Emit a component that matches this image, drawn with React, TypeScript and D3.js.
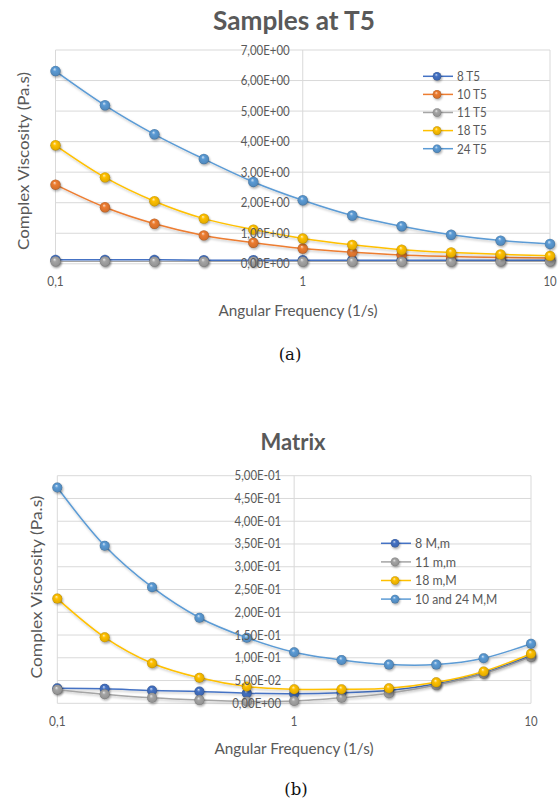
import React from 'react';
import * as d3 from 'd3';

// ---------- data ----------
const freqs = [0.1, 0.1585, 0.2512, 0.3981, 0.631, 1, 1.585, 2.512, 3.981, 6.31, 10];

const topNames = ['8 T5', '10 T5', '11 T5', '18 T5', '24 T5'];
const top8 = [0.13, 0.13, 0.13, 0.12, 0.12, 0.12, 0.12, 0.12, 0.12, 0.12, 0.12];
const top10 = [2.59, 1.85, 1.31, 0.93, 0.69, 0.5, 0.38, 0.29, 0.24, 0.21, 0.19];
const top11 = [0.08, 0.08, 0.07, 0.07, 0.07, 0.07, 0.07, 0.07, 0.07, 0.08, 0.08];
const top18 = [3.88, 2.83, 2.05, 1.48, 1.12, 0.83, 0.62, 0.46, 0.37, 0.31, 0.26];
const top24 = [6.31, 5.19, 4.24, 3.43, 2.68, 2.08, 1.58, 1.23, 0.95, 0.76, 0.65];

const botNames = ['8 M,m', '11 m,m', '18 m,M', '10 and 24 M,M'];
const bot8 = [0.033, 0.032, 0.028, 0.026, 0.022, 0.021, 0.023, 0.028, 0.043, 0.068, 0.105];
const bot11 = [0.03, 0.02, 0.012, 0.007, 0.004, 0.005, 0.012, 0.022, 0.04, 0.065, 0.102];
const bot18 = [0.23, 0.145, 0.088, 0.056, 0.037, 0.031, 0.031, 0.033, 0.046, 0.07, 0.109];
const bot24 = [0.474, 0.346, 0.255, 0.188, 0.144, 0.112, 0.095, 0.085, 0.085, 0.099, 0.131];

const xTicks = [0.1, 1, 10];
const xTickLabels = ['0,1', '1', '10'];
const topYTicks = [0, 1, 2, 3, 4, 5, 6, 7];
const topYTickLabels = ['0,00E+00', '1,00E+00', '2,00E+00', '3,00E+00', '4,00E+00', '5,00E+00', '6,00E+00', '7,00E+00'];
const botYTicks = [0, 0.05, 0.1, 0.15, 0.2, 0.25, 0.3, 0.35, 0.4, 0.45, 0.5];
const botYTickLabels = ['0,00E+00', '5,00E-02', '1,00E-01', '1,50E-01', '2,00E-01', '2,50E-01', '3,00E-01', '3,50E-01', '4,00E-01', '4,50E-01', '5,00E-01'];

// ---------- style ----------
const FONT = "Lato, 'Open Sans', sans-serif";
const TEXT = '#595959';
const GRID = '#D9D9D9';
const COLORS: Record<string, string> = {
  blue: '#4472C4',
  orange: '#ED7D31',
  gray: '#A5A5A5',
  gold: '#FFC000',
  light: '#5B9BD5',
};

// approximate Calibri advance widths (em) so the text spans like the original
const CW: Record<string, number> = {
  ' ': 0.226, '(': 0.303, ')': 0.303, '+': 0.498, ',': 0.25, '-': 0.306, '.': 0.252, '/': 0.386,
  A: 0.579, C: 0.533, E: 0.488, F: 0.459, M: 0.855, P: 0.517, T: 0.487, V: 0.579,
  a: 0.479, c: 0.423, d: 0.525, e: 0.498, g: 0.471, i: 0.229, l: 0.229, m: 0.799, n: 0.525,
  o: 0.527, p: 0.525, q: 0.525, r: 0.349, s: 0.391, t: 0.335, u: 0.525, x: 0.433, y: 0.453,
};
const textW = (s: string, size: number) =>
  s.split('').reduce((acc, ch) => acc + (CW[ch] ?? (/[0-9]/.test(ch) ? 0.507 : 0.5)), 0) * size;

type Series = { name: string; color: string; values: number[] };

const topSeries: Series[] = [
  { name: topNames[0], color: 'blue', values: top8 },
  { name: topNames[1], color: 'orange', values: top10 },
  { name: topNames[2], color: 'gray', values: top11 },
  { name: topNames[3], color: 'gold', values: top18 },
  { name: topNames[4], color: 'light', values: top24 },
];
const botSeries: Series[] = [
  { name: botNames[0], color: 'blue', values: bot8 },
  { name: botNames[1], color: 'gray', values: bot11 },
  { name: botNames[2], color: 'gold', values: bot18 },
  { name: botNames[3], color: 'light', values: bot24 },
];

type Cfg = {
  title: string;
  titleX: number;
  titleY: number;
  titleSize: number;
  titleLen: number;
  x0: number;
  x1: number;
  yBottom: number;
  yTop: number;
  yMax: number;
  yTicks: number[];
  yTickLabels: string[];
  tickSize: number;
  xTickY: number;
  yTitleX: number;
  yTitleY: number;
  yTitleLen: number;
  xTitleX: number;
  xTitleY: number;
  xTitleLen: number;
  series: Series[];
  legX: number;
  legY: number;
  legStep: number;
  r: number;
};

function Marker({ cx, cy, r, color }: { cx: number; cy: number; r: number; color: string }) {
  return (
    <g>
      <circle cx={cx + 1} cy={cy + 1.6} r={r} fill="#000" opacity={0.3} filter="url(#blur)" />
      <circle cx={cx} cy={cy} r={r} fill={`url(#g-${color})`} />
    </g>
  );
}

function Label(props: { x: number; y: number; size: number; text: string; anchor?: string; dy?: string }) {
  const { x, y, size, text, anchor, dy } = props;
  return (
    <text
      x={x}
      y={y}
      dy={dy}
      textAnchor={anchor || 'start'}
      fontSize={size - 0.5}
      fill={TEXT}
      textLength={textW(text, size)}
      lengthAdjust="spacingAndGlyphs"
    >
      {text}
    </text>
  );
}

function Chart({ cfg }: { cfg: Cfg }) {
  const x = d3.scaleLog().domain([0.1, 10]).range([cfg.x0, cfg.x1]);
  const y = d3.scaleLinear().domain([0, cfg.yMax]).range([cfg.yBottom, cfg.yTop]);
  const line = d3
    .line<number>()
    .x((_, i) => x(freqs[i]))
    .y((d) => y(d))
    .curve(d3.curveCatmullRom.alpha(0.5));
  const axisX = x(1);
  return (
    <g fontFamily={FONT}>
      <text
        x={cfg.titleX}
        y={cfg.titleY}
        textAnchor="middle"
        fontSize={cfg.titleSize}
        fontWeight="bold"
        fill={TEXT}
        textLength={cfg.titleLen}
        lengthAdjust="spacingAndGlyphs"
      >
        {cfg.title}
      </text>
      {/* grid */}
      {cfg.yTicks.map((t) => (
        <line key={'h' + t} x1={cfg.x0} x2={cfg.x1} y1={y(t)} y2={y(t)} stroke={GRID} strokeWidth={1} />
      ))}
      {xTicks.map((t) => (
        <line key={'v' + t} x1={x(t)} x2={x(t)} y1={cfg.yTop} y2={cfg.yBottom} stroke={GRID} strokeWidth={1} />
      ))}
      {/* x tick labels */}
      {xTicks.map((t, i) => (
        <Label key={'xl' + t} x={x(t)} y={cfg.xTickY} anchor="middle" size={cfg.tickSize} text={xTickLabels[i]} />
      ))}
      {/* series */}
      {cfg.series.map((s) => (
        <g key={s.name}>
          <path d={line(s.values) || ''} fill="none" stroke={COLORS[s.color]} strokeWidth={1.5} filter="url(#lshadow)" />
          {s.values.map((v, i) => (
            <Marker key={i} cx={x(freqs[i])} cy={y(v)} r={cfg.r} color={s.color} />
          ))}
        </g>
      ))}
      {/* y tick labels (axis crosses at 1) */}
      {cfg.yTicks.map((t, i) => (
        <Label
          key={'yl' + t}
          x={axisX - 13}
          y={y(t)}
          dy="0.36em"
          anchor="end"
          size={cfg.tickSize}
          text={cfg.yTickLabels[i]}
        />
      ))}
      {/* axis titles */}
      <text
        transform={`translate(${cfg.yTitleX},${cfg.yTitleY}) rotate(-90)`}
        textAnchor="middle"
        fontSize={16}
        fill={TEXT}
        textLength={cfg.yTitleLen}
        lengthAdjust="spacingAndGlyphs"
      >
        Complex Viscosity (Pa.s)
      </text>
      <text
        x={cfg.xTitleX}
        y={cfg.xTitleY}
        textAnchor="middle"
        fontSize={15}
        fill={TEXT}
        textLength={cfg.xTitleLen}
        lengthAdjust="spacingAndGlyphs"
      >
        Angular Frequency (1/s)
      </text>
      {/* legend */}
      {cfg.series.map((s, i) => {
        const ly = cfg.legY + i * cfg.legStep;
        return (
          <g key={'lg' + s.name}>
            <line x1={cfg.legX} x2={cfg.legX + 30} y1={ly} y2={ly} stroke={COLORS[s.color]} strokeWidth={1.5} />
            <Marker cx={cfg.legX + 14} cy={ly} r={4.3} color={s.color} />
            <Label x={cfg.legX + 34} y={ly} dy="0.38em" size={13.3} text={s.name} />
          </g>
        );
      })}
    </g>
  );
}

const topCfg: Cfg = {
  title: 'Samples at T5',
  titleX: 294,
  titleY: 30,
  titleSize: 27,
  titleLen: 162,
  x0: 55.5,
  x1: 550,
  yBottom: 263.8,
  yTop: 50,
  yMax: 7,
  yTicks: topYTicks,
  yTickLabels: topYTickLabels,
  tickSize: 13,
  xTickY: 286,
  yTitleX: 29,
  yTitleY: 161,
  yTitleLen: 178,
  xTitleX: 298,
  xTitleY: 315.5,
  xTitleLen: 159,
  series: topSeries,
  legX: 423,
  legY: 76.3,
  legStep: 18.1,
  r: 5.2,
};

const botCfg: Cfg = {
  title: 'Matrix',
  titleX: 293,
  titleY: 449.5,
  titleSize: 22,
  titleLen: 65,
  x0: 57.3,
  x1: 531,
  yBottom: 703.3,
  yTop: 475.7,
  yMax: 0.5,
  yTicks: botYTicks,
  yTickLabels: botYTickLabels,
  tickSize: 13,
  xTickY: 726,
  yTitleX: 41.5,
  yTitleY: 587,
  yTitleLen: 183,
  xTitleX: 294,
  xTitleY: 754,
  xTitleLen: 159,
  series: botSeries,
  legX: 381,
  legY: 543.3,
  legStep: 18.6,
  r: 5,
};

export default function App() {
  return (
    <svg
      width={559}
      height={804}
      viewBox="0 0 559 804"
      style={{ position: 'absolute', left: 0, top: 0, background: '#fff', display: 'block' }}
    >
      <defs>
        {Object.keys(COLORS).map((k) => {
          const c = d3.color(COLORS[k])!;
          const light = d3.interpolateRgb(COLORS[k], '#ffffff')(0.75);
          const dark = c.darker(0.9).formatHex();
          return (
            <radialGradient key={k} id={`g-${k}`} cx="0.5" cy="0.5" r="0.5" fx="0.4" fy="0.3">
              <stop offset="0" stopColor={light} />
              <stop offset="0.35" stopColor={COLORS[k]} />
              <stop offset="0.85" stopColor={c.darker(0.3).formatHex()} />
              <stop offset="1" stopColor={dark} />
            </radialGradient>
          );
        })}
        <filter id="blur" x="-50%" y="-50%" width="200%" height="200%">
          <feGaussianBlur stdDeviation="1.1" />
        </filter>
        <filter id="lshadow" x="-5%" y="-20%" width="110%" height="140%">
          <feDropShadow dx="0.8" dy="1.5" stdDeviation="1" floodColor="#000" floodOpacity="0.25" />
        </filter>
      </defs>
      <rect x={0} y={0} width={559} height={804} fill="#fff" />
      <Chart cfg={topCfg} />
      <Chart cfg={botCfg} />
      <text x={290} y={360} textAnchor="middle" fontFamily="'DejaVu Serif', serif" fontSize={16.5} fill="#111">
        (a)
      </text>
      <text x={296} y={795} textAnchor="middle" fontFamily="'DejaVu Serif', serif" fontSize={16.5} fill="#111">
        (b)
      </text>
    </svg>
  );
}
